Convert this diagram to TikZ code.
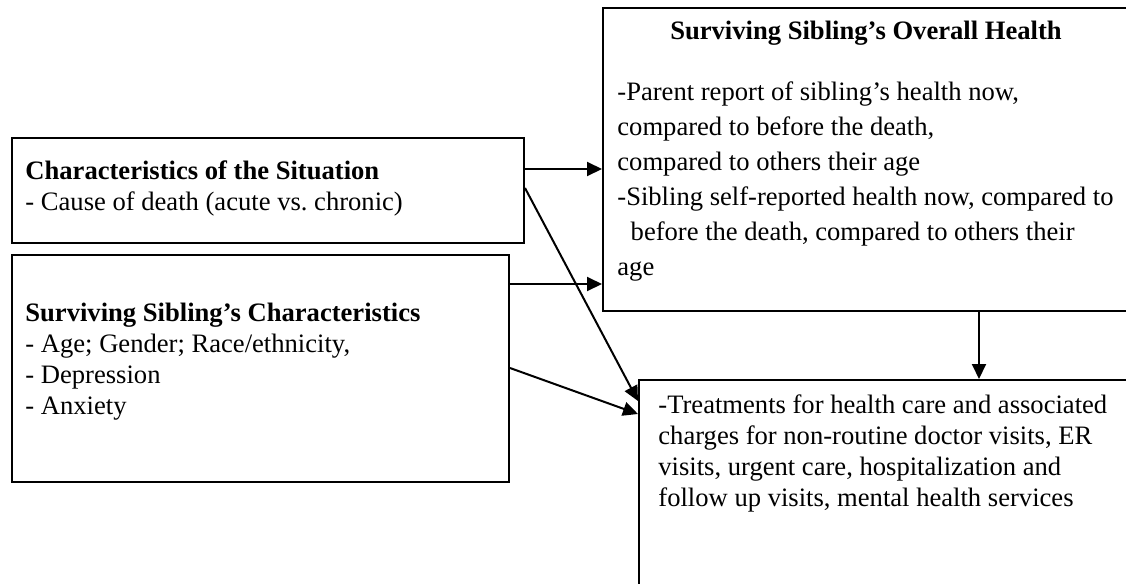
\documentclass[tikz,border=0pt]{standalone}
\usepackage{fontspec}
\setmainfont{Liberation Serif}
\frenchspacing
\usetikzlibrary{arrows.meta,calc}
\tikzset{
  box/.style={draw, line width=1pt, inner sep=0pt, anchor=north west},
  txt/.style={inner sep=0pt, anchor=base west, align=left, font=\fontsize{13.3}{15.5}\selectfont},
  arr/.style={-{Triangle[length=7.5pt,width=7pt]}, line width=1pt},
}
\begin{document}
\begin{tikzpicture}[x=0.5pt, y=-0.5pt]
\useasboundingbox (0,0) rectangle (1126,584);

% boxes
\node[box, minimum width=256pt, minimum height=52.5pt] (sit) at (11,137) {};
\node[box, minimum width=248.5pt, minimum height=113.5pt] (sib) at (11,254) {};
\node[box, minimum width=269pt, minimum height=151.5pt] (health) at (602,7) {};
\node[box, minimum width=251pt, minimum height=110.5pt] (treat) at (638,379) {};

% texts (placed at the baseline of the last line)
\node[txt] (sitText) at (25,210) {\textbf{Characteristics of the Situation}\\
- Cause of death (acute vs. chronic)};
\node[txt] (sibText) at (25,414) {\textbf{Surviving Sibling’s Characteristics}\\
- Age; Gender; Race/ethnicity,\\
- Depression\\
- Anxiety};
\node[txt, anchor=base] (healthTitle) at (866,39) {\textbf{Surviving Sibling’s Overall Health}};
\node[txt, font=\fontsize{13.3}{17.5}\selectfont] (healthText) at (617,275) {-Parent report of sibling’s health now,\\
compared to before the death,\\
compared to others their age\\
-Sibling self-reported health now, compared to\\
\ \ before the death, compared to others their\\
age};
\node[txt] (treatText) at (658,506) {-Treatments for health care and associated\\
charges for non-routine doctor visits, ER\\
visits, urgent care, hospitalization and\\
follow up visits, mental health services};

% connectors
\coordinate (a1) at ($(sit.north east)+(0,32)$);
\coordinate (a2) at ($(sit.north east)+(0,51)$);
\coordinate (b1) at ($(sib.north east)+(0,30)$);
\coordinate (b2) at ($(sib.north east)+(0,114)$);
\coordinate (c1) at ($(health.south west)+(377,0)$);

\draw[arr] (a1) -- (a1 -| health.west);
\draw[arr] (b1) -- (b1 -| health.west);
\draw[arr] (a2) -- ($(treat.north west)+(0,22)$);
\draw[arr] (b2) -- ($(treat.north west)+(0,35)$);
\draw[arr] (c1) -- (c1 |- treat.north);
\end{tikzpicture}
\end{document}
